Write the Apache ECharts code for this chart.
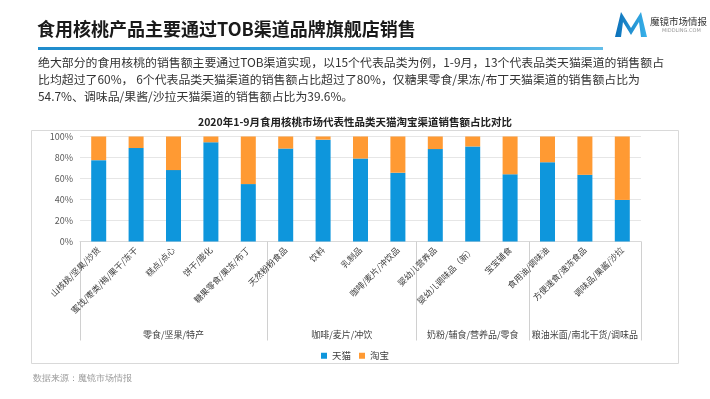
<!DOCTYPE html>
<html>
<head>
<meta charset="utf-8">
<title>食用核桃产品主要通过TOB渠道品牌旗舰店销售</title>
<script src="https://cdn.jsdelivr.net/npm/echarts@6/dist/echarts.min.js"></script>
<style>
  html, body { margin: 0; padding: 0; background: #fff; }
  body { width: 710px; height: 399px; position: relative; overflow: hidden;
         font-family: "Noto Sans CJK SC", "Noto Sans", sans-serif; }
  #chart { position: absolute; left: 0; top: 0; width: 710px; height: 399px; }
  .head-title { position: absolute; left: 37px; top: 15px; margin: 0;
                font-size: 18px; font-weight: bold; color: #1a1a1a; line-height: 26px; }
  .head-line { position: absolute; left: 38px; top: 47px; width: 565px; height: 3px;
               background: linear-gradient(to right, #1f8ccc, #3aa6e0 80%, #62bde9); }
  .desc { position: absolute; left: 38px; top: 53px; margin: 0; font-size: 11.9px;
          line-height: 17px; color: #333; white-space: nowrap; }
  .logo { position: absolute; left: 613px; top: 10px; }
  .logo-name { position: absolute; left: 650px; top: 14px; font-size: 9.5px; color: #333; }
  .logo-site { position: absolute; left: 662px; top: 27px; font-size: 5px; color: #999;
               font-family: "DejaVu Sans", sans-serif; }
</style>
</head>
<body>
<div id="chart"></div>
<h1 class="head-title">食用核桃产品主要通过TOB渠道品牌旗舰店销售</h1>
<div class="head-line"></div>
<p class="desc">绝大部分的食用核桃的销售额主要通过TOB渠道实现，以15个代表品类为例，1-9月，13个代表品类天猫渠道的销售额占<br>比均超过了60%， 6个代表品类天猫渠道的销售额占比超过了80%，仅糖果零食/果冻/布丁天猫渠道的销售额占比为<br>54.7%、调味品/果酱/沙拉天猫渠道的销售额占比为39.6%。</p>
<svg class="logo" width="36" height="27" viewBox="0 0 36 27">
  <defs>
    <linearGradient id="lg1" x1="0" y1="0" x2="1" y2="0">
      <stop offset="0" stop-color="#0b6fb8"/>
      <stop offset="1" stop-color="#39b2ea"/>
    </linearGradient>
  </defs>
  <path d="M2 27 L8 2 L18 18 L28 2 L34 27 L28 27 L26 12 L18 25 L10 12 L8 27 Z" fill="url(#lg1)"/>
</svg>
<div class="logo-name">魔镜市场情报</div>
<div class="logo-site">MIDDLING.COM</div>
<script>
  var categories = ['山核桃/坚果/炒货', '蜜饯/枣类/梅/果干/冻干', '糕点/点心', '饼干/膨化', '糖果零食/果冻/布丁',
    '天然粉粉食品', '饮料', '乳制品', '咖啡/麦片/冲饮品',
    '婴幼儿营养品', '婴幼儿调味品（新）', '宝宝辅食',
    '食用油/调味油', '方便速食/速冻食品', '调味品/果酱/沙拉'];
  var tmall = [77.5, 89, 68, 94.5, 54.7, 88.5, 97, 79, 65.5, 88, 90.5, 64, 75.5, 63.5, 39.6];
  var taobao = [22.5, 11, 32, 5.5, 45.3, 11.5, 3, 21, 34.5, 12, 9.5, 36, 24.5, 36.5, 60.4];
  // 分组：名称及其在类目轴上的起止位置
  var groupNames = ['零食/坚果/特产', '咖啡/麦片/冲饮', '奶粉/辅食/营养品/零食', '粮油米面/南北干货/调味品'];
  var groupEdges = [0, 5, 9, 12, 15];
  var groupCenters = [2.5, 7, 10.5, 13.5];
  var yTicks = [0, 20, 40, 60, 80, 100];

  var chart = echarts.init(document.getElementById('chart'), null, { renderer: 'canvas' });
  chart.setOption({
    backgroundColor: '#fff',
    animation: false,
    textStyle: { fontFamily: '"Noto Sans CJK SC", sans-serif' },
    title: {
      text: '2020年1-9月食用核桃市场代表性品类天猫淘宝渠道销售额占比对比',
      left: 'center',
      top: 112,
      textStyle: { fontSize: 10.5, fontWeight: 'bold', color: '#222' }
    },
    graphic: [
      {
        type: 'rect',
        shape: { x: 31.5, y: 130.5, width: 647, height: 233 },
        style: { fill: 'none', stroke: '#d9d9d9', lineWidth: 1 },
        silent: true
      },
      {
        type: 'text',
        left: 33,
        top: 374,
        style: { text: '数据来源：魔镜市场情报', fontSize: 9, fill: '#9a9a9a' }
      }
    ],
    legend: {
      data: ['天猫', '淘宝'],
      left: 'center',
      top: 346,
      icon: 'rect',
      itemWidth: 6,
      itemHeight: 6,
      itemGap: 8,
      textStyle: { fontSize: 9.5, color: '#404040' }
    },
    grid: { left: 80, right: 69, top: 136.5, bottom: 157.5 },
    xAxis: [
      {
        type: 'category',
        data: categories,
        axisTick: { show: false },
        axisLine: { lineStyle: { color: '#d9d9d9' } },
        axisLabel: { interval: 0, rotate: 45, fontSize: 8.5, color: '#404040', margin: 7 }
      },
      {
        type: 'value',
        min: 0,
        max: 15,
        position: 'bottom',
        axisLine: { show: false },
        splitLine: { show: false },
        axisTick: {
          show: true,
          customValues: groupEdges,
          length: 99,
          lineStyle: { color: '#d0d0d0' }
        },
        axisLabel: {
          customValues: groupCenters,
          margin: 89,
          fontSize: 9,
          color: '#404040',
          formatter: function (v) {
            return groupNames[groupCenters.indexOf(v)] || '';
          }
        }
      }
    ],
    yAxis: {
      type: 'value',
      min: yTicks[0],
      max: yTicks[yTicks.length - 1],
      interval: 20,
      axisLine: { show: false },
      axisTick: { show: false },
      splitLine: { lineStyle: { color: '#e6e6e6' } },
      axisLabel: { formatter: '{value}%', fontSize: 9, color: '#595959', margin: 7 }
    },
    series: [
      {
        name: '天猫',
        type: 'bar',
        stack: 'total',
        barWidth: 15,
        data: tmall,
        itemStyle: { color: '#0e96dc' }
      },
      {
        name: '淘宝',
        type: 'bar',
        stack: 'total',
        barWidth: 15,
        data: taobao,
        itemStyle: { color: '#ff9a33' }
      }
    ]
  });
</script>
</body>
</html>
